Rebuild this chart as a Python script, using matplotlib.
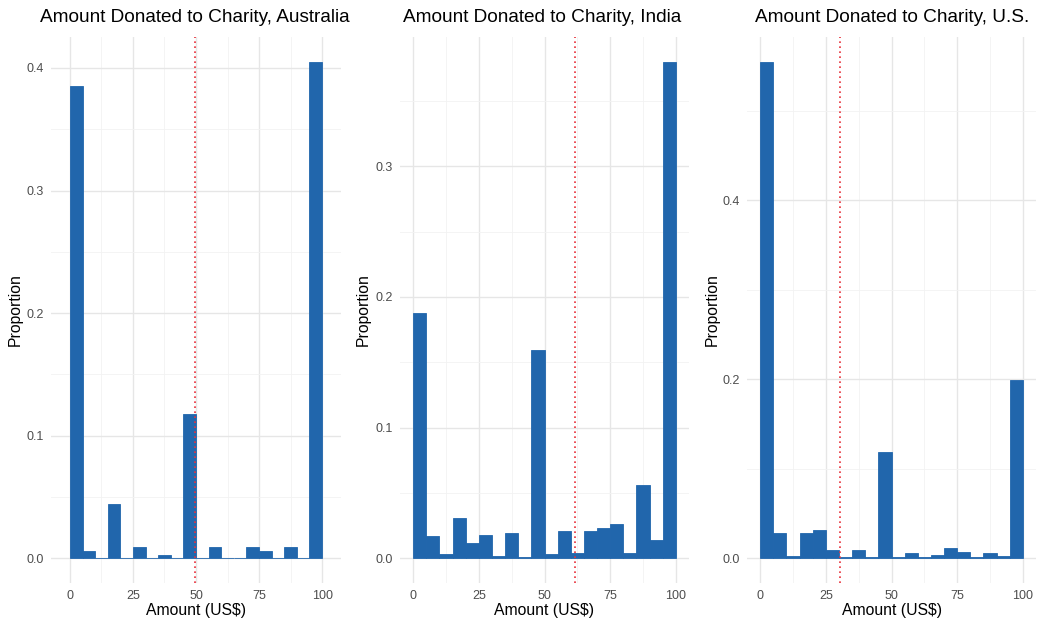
import numpy as np
import matplotlib
matplotlib.use("Agg")
import matplotlib.pyplot as plt

plt.rcParams['font.family'] = ['Liberation Sans', 'DejaVu Sans']

# histogram bins: 20 bins of width 5 from 0 to 100
bin_edges = np.arange(0, 105, 5)

countries = ["Australia", "India", "U.S."]

australia = [0.385, 0.006, 0.0, 0.044, 0.0, 0.009, 0.0, 0.003, 0.0, 0.118,
             0.0, 0.009, 0.0, 0.0, 0.009, 0.006, 0.0, 0.009, 0.0, 0.405]
india = [0.188, 0.017, 0.003, 0.031, 0.012, 0.018, 0.002, 0.019, 0.001, 0.159,
         0.003, 0.021, 0.004, 0.021, 0.023, 0.026, 0.004, 0.056, 0.014, 0.380]
us = [0.555, 0.028, 0.002, 0.028, 0.031, 0.009, 0.001, 0.009, 0.001, 0.119,
      0.001, 0.006, 0.001, 0.004, 0.011, 0.007, 0.001, 0.006, 0.002, 0.199]

means = [49.8, 61.7, 30.4]
y_ticks = [[0.0, 0.1, 0.2, 0.3, 0.4], [0.0, 0.1, 0.2, 0.3], [0.0, 0.2, 0.4]]
x_ticks = [0, 25, 50, 75, 100]

bar_color = "#2166ac"
line_color = "#e8303a"

W, H = 1042, 624
fig = plt.figure(figsize=(W / 100, H / 100), dpi=100)

# panel extents in pixels (left, right) and x padding, top and bottom shared
panels = [(51, 341), (400, 689), (747, 1036)]
x_pad = [7.5, 5, 5]
title_x = [40, 403, 755]
ylabel_x = [15, 363, 712]
top_px, bot_px = 37, 583

for i, vals in enumerate([australia, india, us]):
    l, r = panels[i]
    ax = fig.add_axes([l / W, 1 - bot_px / H, (r - l) / W, (bot_px - top_px) / H])
    vals = np.array(vals)
    ax.bar(bin_edges[:-1], vals, width=5, align='edge', color=bar_color,
           edgecolor=bar_color, linewidth=0.6, zorder=3)
    ax.axvline(means[i], color=line_color, linestyle=(0, (1, 2)), linewidth=1.2, zorder=4)

    ymax = vals.max()
    ax.set_xlim(-x_pad[i], 100 + x_pad[i])
    ax.set_ylim(-0.05 * ymax, 1.05 * ymax)

    ax.set_xticks(x_ticks)
    ax.set_xticks([12.5, 37.5, 62.5, 87.5], minor=True)
    ax.set_yticks(y_ticks[i])
    step = y_ticks[i][1] - y_ticks[i][0]
    ax.set_yticks(np.arange(step / 2, 1.05 * ymax, step), minor=True)
    ax.set_yticklabels([f"{t:.1f}" for t in y_ticks[i]])

    ax.grid(which='major', color='#e6e6e6', linewidth=1.0, zorder=0)
    ax.grid(which='minor', color='#f2f2f2', linewidth=0.6, zorder=0)
    for s in ax.spines.values():
        s.set_visible(False)
    ax.tick_params(which='both', length=0, labelsize=9, labelcolor='#4d4d4d', pad=5)
    ax.set_axisbelow(True)

    ax.set_xlabel("Amount (US$)", fontsize=11.3, labelpad=1)

    fig.text(title_x[i] / W, 1 - 18 / H, f"Amount Donated to Charity, {countries[i]}",
             fontsize=13.7, ha='left', va='center')
    fig.text(ylabel_x[i] / W, 1 - 310 / H, "Proportion", fontsize=11.3,
             rotation=90, ha='center', va='center')

fig.savefig("out.png", dpi=100, facecolor='white')
